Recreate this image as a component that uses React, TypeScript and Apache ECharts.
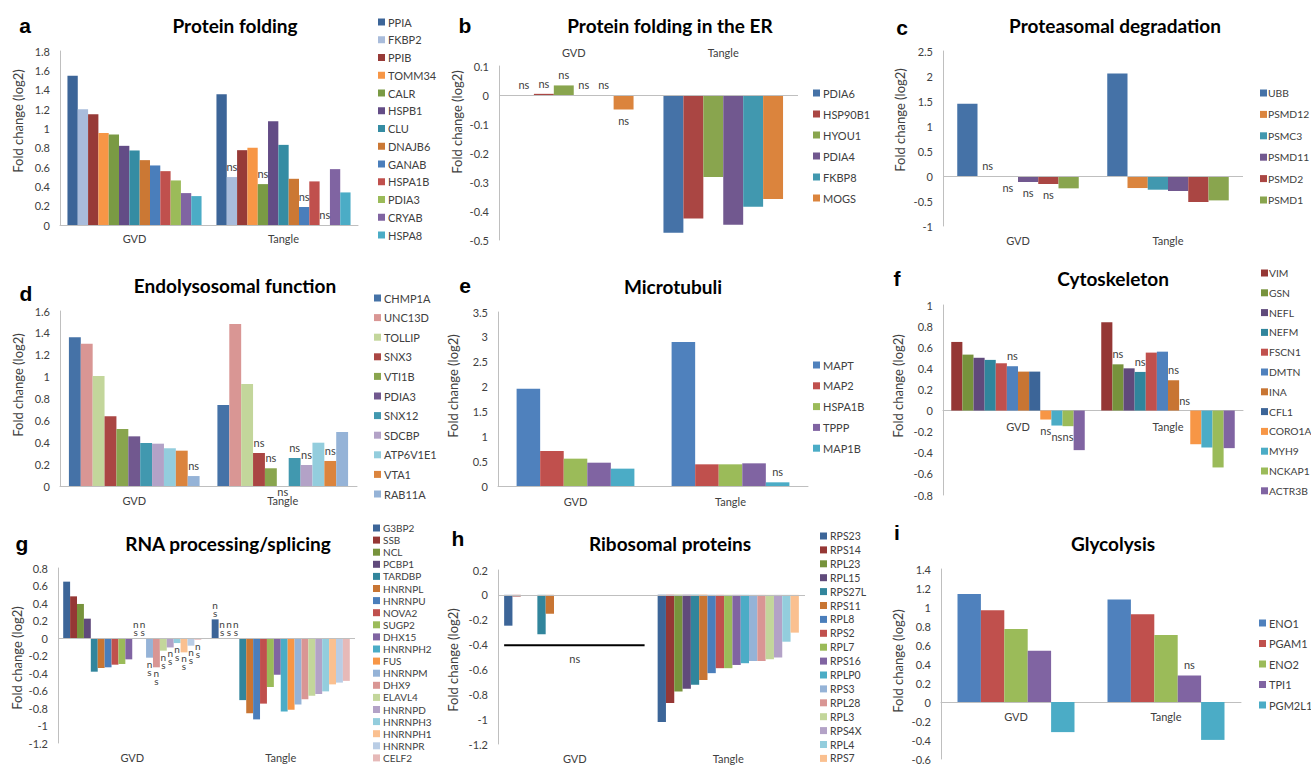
import React, { useEffect, useRef } from 'react';
import * as echarts from 'echarts';

const FONT = 'Lato, "Open Sans", sans-serif';
const AXIS = '#BFBFBF';
const TXT = '#404040';

const groups = ['GVD', 'Tangle'];
const yName = 'Fold change (log2)';

// a — Protein folding
const aGenes = ['PPIA', 'FKBP2', 'PPIB', 'TOMM34', 'CALR', 'HSPB1', 'CLU', 'DNAJB6', 'GANAB', 'HSPA1B', 'PDIA3', 'CRYAB', 'HSPA8'];
const aGVD = [1.545, 1.197, 1.146, 0.953, 0.936, 0.819, 0.771, 0.671, 0.616, 0.557, 0.461, 0.33, 0.299];
const aTangle = [1.352, 0.496, 0.774, 0.798, 0.423, 1.074, 0.829, 0.478, 0.186, 0.451, 0, 0.578, 0.337];
const aNsGVD = [0, 0, 0, 0, 0, 0, 0, 0, 0, 0, 0, 0, 0];
const aNsTangle = [0, 1, 0, 0, 1, 0, 0, 0, 1, 0, 1, 0, 0];
const aColors = ['#3C6598', '#A9BCDB', '#973A37', '#F79646', '#7A9A44', '#634C86', '#358CA3', '#CB7834', '#4A7EBB', '#C0504D', '#9BBB59', '#8064A2', '#4BACC6'];

// b — Protein folding in the ER
const bGenes = ['PDIA6', 'HSP90B1', 'HYOU1', 'PDIA4', 'FKBP8', 'MOGS'];
const bGVD = [0, 0.004, 0.033, 0, 0, -0.05];
const bTangle = [-0.475, -0.426, -0.283, -0.447, -0.385, -0.359];
const bNsGVD = [1, 1, 1, 1, 1, 1];
const bNsTangle = [0, 0, 0, 0, 0, 0];
const bColors = ['#4572A7', '#AA4643', '#89A54E', '#71588F', '#4198AF', '#DB843D'];

// c — Proteasomal degradation
const cGenes = ['UBB', 'PSMD12', 'PSMC3', 'PSMD11', 'PSMD2', 'PSMD1'];
const cGVD = [1.444, 0, -0.015, -0.12, -0.16, -0.247];
const cTangle = [2.052, -0.241, -0.274, -0.3, -0.52, -0.488];
const cNsGVD = [0, 1, 1, 1, 1, 0];
const cNsTangle = [0, 0, 0, 0, 0, 0];
const cColors = ['#4572A7', '#DB843D', '#4198AF', '#71588F', '#AA4643', '#89A54E'];

// d — Endolysosomal function
const dGenes = ['CHMP1A', 'UNC13D', 'TOLLIP', 'SNX3', 'VTI1B', 'PDIA3', 'SNX12', 'SDCBP', 'ATP6V1E1', 'VTA1', 'RAB11A'];
const dGVD = [1.36, 1.3, 1.006, 0.637, 0.521, 0.454, 0.393, 0.387, 0.345, 0.323, 0.091];
const dTangle = [0.741, 1.482, 0.933, 0.302, 0.162, 0, 0.256, 0.192, 0.396, 0.229, 0.494];
const dNsGVD = [0, 0, 0, 0, 0, 0, 0, 0, 0, 0, 1];
const dNsTangle = [0, 0, 0, 1, 1, -1, 1, 1, 0, 1, 0];
const dColors = ['#4572A7', '#D99694', '#C3D69B', '#AA4643', '#89A54E', '#71588F', '#4198AF', '#B3A2C7', '#93CDDD', '#DB843D', '#95B3D7'];

// e — Microtubuli
const eGenes = ['MAPT', 'MAP2', 'HSPA1B', 'TPPP', 'MAP1B'];
const eGVD = [1.957, 0.704, 0.55, 0.469, 0.349];
const eTangle = [2.895, 0.436, 0.436, 0.456, 0.074];
const eNsGVD = [0, 0, 0, 0, 0];
const eNsTangle = [0, 0, 0, 0, 1];
const eColors = ['#4F81BD', '#C0504D', '#9BBB59', '#8064A2', '#4BACC6'];

// f — Cytoskeleton
const fGenes = ['VIM', 'GSN', 'NEFL', 'NEFM', 'FSCN1', 'DMTN', 'INA', 'CFL1', 'CORO1A', 'MYH9', 'NCKAP1', 'ACTR3B'];
const fGVD = [0.65, 0.53, 0.5, 0.48, 0.448, 0.42, 0.369, 0.369, -0.085, -0.142, -0.148, -0.375];
const fTangle = [0.836, 0.438, 0.4, 0.366, 0.549, 0.558, 0.287, 0, -0.319, -0.35, -0.539, -0.356];
const fNsGVD = [0, 0, 0, 0, 0, 1, 0, 0, 1, 1, 1, 0];
const fNsTangle = [0, 1, 0, 1, 0, 0, 1, 1, 0, 0, 0, 0];
const fColors = ['#953735', '#77933C', '#604A7B', '#31859C', '#C0504D', '#4F81BD', '#C87533', '#3C6598', '#F79646', '#4BACC6', '#9BBB59', '#8064A2'];

// g — RNA processing/splicing
const gGenes = ['G3BP2', 'SSB', 'NCL', 'PCBP1', 'TARDBP', 'HNRNPL', 'HNRNPU', 'NOVA2', 'SUGP2', 'DHX15', 'HNRNPH2', 'FUS', 'HNRNPM', 'DHX9', 'ELAVL4', 'HNRNPD', 'HNRNPH3', 'HNRNPH1', 'HNRNPR', 'CELF2'];
const gGVD = [0.644, 0.476, 0.389, 0.221, -0.385, -0.343, -0.335, -0.305, -0.297, -0.244, 0, 0, -0.225, -0.335, -0.145, -0.108, -0.058, -0.164, -0.088, -0.02];
const gTangle = [0.213, 0, 0, 0, -0.71, -0.86, -0.93, -0.75, -0.56, -0.42, -0.84, -0.82, -0.76, -0.7, -0.66, -0.64, -0.61, -0.53, -0.51, -0.49];
const gNsGVD = [0, 0, 0, 0, 0, 0, 0, 0, 0, 0, 1, 1, 1, 1, 1, 1, 1, 1, 1, 1];
const gNsTangle = [1, 1, 1, 1, 0, 0, 0, 0, 0, 0, 0, 0, 0, 0, 0, 0, 0, 0, 0, 0];
const gColors = ['#3C6598', '#953735', '#77933C', '#604A7B', '#31859C', '#C87533', '#4A7EBB', '#C0504D', '#9BBB59', '#8064A2', '#4BACC6', '#F79646', '#95B3D7', '#D99694', '#C3D69B', '#B3A2C7', '#93CDDD', '#FAC090', '#B9CDE5', '#E6B9B8'];

// h — Ribosomal proteins
const hGenes = ['RPS23', 'RPS14', 'RPL23', 'RPL15', 'RPS27L', 'RPS11', 'RPL8', 'RPS2', 'RPL7', 'RPS16', 'RPLP0', 'RPS3', 'RPL28', 'RPL3', 'RPS4X', 'RPL4', 'RPS7'];
const hGVD = [-0.248, -0.013, 0, 0, -0.317, -0.152, 0, 0, 0, 0, 0, 0, 0, 0, 0, 0, 0];
const hTangle = [-1.022, -0.87, -0.777, -0.756, -0.724, -0.686, -0.63, -0.59, -0.59, -0.564, -0.55, -0.532, -0.532, -0.518, -0.504, -0.377, -0.304];
const hNsGVD = hGenes.map(() => 0);
const hNsTangle = hGenes.map(() => 0);
const hNsLineLevel = -0.405;
const hColors = ['#3C6598', '#953735', '#77933C', '#604A7B', '#31859C', '#C87533', '#4A7EBB', '#C0504D', '#9BBB59', '#8064A2', '#4BACC6', '#95B3D7', '#D99694', '#C3D69B', '#B3A2C7', '#93CDDD', '#FAC090'];

// i — Glycolysis
const iGenes = ['ENO1', 'PGAM1', 'ENO2', 'TPI1', 'PGM2L1'];
const iGVD = [1.136, 0.966, 0.769, 0.54, -0.317];
const iTangle = [1.079, 0.924, 0.705, 0.279, -0.399];
const iNsGVD = [0, 0, 0, 0, 0];
const iNsTangle = [0, 0, 0, 1, 0];
const iColors = ['#4F81BD', '#C0504D', '#9BBB59', '#8064A2', '#4BACC6'];

interface PanelCfg {
  box: number[];
  letter: string; letterPos: number[];
  title: string; titlePos: number[];
  ynamePos: number[];
  grid: { left: number; top: number; width: number; height: number };
  yMin: number; yMax: number; yInterval: number;
  gap: string; xMode: 'zero' | 'top' | 'bottom'; xMargin: number;
  genes: string[]; gvd: number[]; tangle: number[]; nsG: number[]; nsT: number[]; colors: string[];
  leg: { left: number; top: number; gap: number; font: number; lh: number; pad: number };
  nsStack?: boolean;
  nsLine?: number;
}

const panels: PanelCfg[] = [
  { box: [0, 0, 440, 255], letter: 'a', letterPos: [25, 25], title: 'Protein folding', titlePos: [235, 25], ynamePos: [18, 121],
    grid: { left: 60, top: 51, width: 298, height: 174 }, yMin: 0, yMax: 1.8, yInterval: 0.2, gap: '10%', xMode: 'zero', xMargin: 8,
    genes: aGenes, gvd: aGVD, tangle: aTangle, nsG: aNsGVD, nsT: aNsTangle, colors: aColors,
    leg: { left: 378, top: 16, gap: 5.75, font: 11, lh: 12, pad: -2 } },
  { box: [440, 0, 430, 255], letter: 'b', letterPos: [25, 25], title: 'Protein folding in the ER', titlePos: [230, 25], ynamePos: [17, 122],
    grid: { left: 59, top: 66, width: 299, height: 174 }, yMin: -0.5, yMax: 0.1, yInterval: 0.1, gap: '20%', xMode: 'top', xMargin: 8,
    genes: bGenes, gvd: bGVD, tangle: bTangle, nsG: bNsGVD, nsT: bNsTangle, colors: bColors,
    leg: { left: 373, top: 87, gap: 9, font: 11, lh: 12, pad: -2 } },
  { box: [870, 0, 441, 255], letter: 'c', letterPos: [32, 27], title: 'Proteasomal degradation', titlePos: [245, 25], ynamePos: [30, 120],
    grid: { left: 73, top: 51, width: 300, height: 175 }, yMin: -1, yMax: 2.5, yInterval: 0.5, gap: '19%', xMode: 'bottom', xMargin: 9,
    genes: cGenes, gvd: cGVD, tangle: cTangle, nsG: cNsGVD, nsT: cNsTangle, colors: cColors,
    leg: { left: 390, top: 87, gap: 9.4, font: 10.3, lh: 12, pad: -4 } },
  { box: [0, 255, 440, 255], letter: 'd', letterPos: [26, 38], title: 'Endolysosomal function', titlePos: [235, 30], ynamePos: [18, 130],
    grid: { left: 60, top: 56, width: 297, height: 175 }, yMin: 0, yMax: 1.6, yInterval: 0.2, gap: '12%', xMode: 'zero', xMargin: 9,
    genes: dGenes, gvd: dGVD, tangle: dTangle, nsG: dNsGVD, nsT: dNsTangle, colors: dColors,
    leg: { left: 374, top: 37, gap: 7.6, font: 11, lh: 12, pad: -2 } },
  { box: [440, 255, 430, 255], letter: 'e', letterPos: [25, 30], title: 'Microtubuli', titlePos: [233, 31], ynamePos: [13, 131],
    grid: { left: 58, top: 57, width: 310, height: 174 }, yMin: 0, yMax: 3.5, yInterval: 0.5, gap: '24%', xMode: 'zero', xMargin: 10,
    genes: eGenes, gvd: eGVD, tangle: eTangle, nsG: eNsGVD, nsT: eNsTangle, colors: eColors,
    leg: { left: 373, top: 104, gap: 8.8, font: 11, lh: 12, pad: -2 } },
  { box: [870, 255, 441, 255], letter: 'f', letterPos: [27, 23], title: 'Cytoskeleton', titlePos: [243, 23], ynamePos: [28, 131],
    grid: { left: 73, top: 50, width: 300, height: 190 }, yMin: -0.8, yMax: 1, yInterval: 0.2, gap: '11%', xMode: 'zero', xMargin: 10,
    genes: fGenes, gvd: fGVD, tangle: fTangle, nsG: fNsGVD, nsT: fNsTangle, colors: fColors,
    leg: { left: 391, top: 12, gap: 7.8, font: 10.3, lh: 12, pad: -4 } },
  { box: [0, 510, 440, 257], letter: 'g', letterPos: [22, 33], title: 'RNA processing/splicing', titlePos: [228, 33], ynamePos: [17, 148],
    grid: { left: 58, top: 58, width: 297, height: 175 }, yMin: -1.2, yMax: 0.8, yInterval: 0.2, gap: '7%', xMode: 'bottom', xMargin: 9,
    genes: gGenes, gvd: gGVD, tangle: gTangle, nsG: gNsGVD, nsT: gNsTangle, colors: gColors,
    leg: { left: 373, top: 13, gap: 2.1, font: 10, lh: 10, pad: -2 }, nsStack: true },
  { box: [440, 510, 430, 257], letter: 'h', letterPos: [18, 28], title: 'Ribosomal proteins', titlePos: [230, 33], ynamePos: [13, 150],
    grid: { left: 58, top: 60, width: 307, height: 174 }, yMin: -1.2, yMax: 0.2, yInterval: 0.2, gap: '8%', xMode: 'bottom', xMargin: 9,
    genes: hGenes, gvd: hGVD, tangle: hTangle, nsG: hNsGVD, nsT: hNsTangle, colors: hColors,
    leg: { left: 380, top: 20.5, gap: 2.9, font: 10.5, lh: 11, pad: -2 }, nsLine: hNsLineLevel },
  { box: [870, 510, 441, 257], letter: 'i', letterPos: [27, 22], title: 'Glycolysis', titlePos: [243, 33], ynamePos: [28, 151],
    grid: { left: 71, top: 59, width: 300, height: 190 }, yMin: -0.6, yMax: 1.4, yInterval: 0.2, gap: '22%', xMode: 'zero', xMargin: 9,
    genes: iGenes, gvd: iGVD, tangle: iTangle, nsG: iNsGVD, nsT: iNsTangle, colors: iColors,
    leg: { left: 389, top: 107, gap: 8.5, font: 11, lh: 12, pad: -2 } },
];

function textStyle(text: string, font: string, fill: string) {
  return { text, font, fill, align: 'center', verticalAlign: 'middle', textAlign: 'center', textVerticalAlign: 'middle' };
}

function buildOption(p: PanelCfg): any {
  const nsLabel = (v: number, ns: number) => ({
    show: true,
    position: ns < 0 || v < 0 ? 'bottom' : 'top',
    formatter: p.nsStack ? 'n\ns' : 'ns',
    distance: p.nsStack ? 2 : ns < 0 ? -1 : 4,
    fontSize: p.nsStack ? 10 : 11,
    lineHeight: p.nsStack ? 8 : 13,
    color: TXT,
    fontFamily: FONT,
  });
  const item = (v: number, ns: number) => (ns ? { value: v, label: nsLabel(v, ns) } : v);
  const series = p.genes.map((g, i) => {
    const s: any = {
      type: 'bar',
      name: g,
      data: [item(p.gvd[i], p.nsG[i]), item(p.tangle[i], p.nsT[i])],
      itemStyle: { color: p.colors[i] },
      barGap: '0%',
      barCategoryGap: p.gap,
    };
    if (i === 0 && p.xMode !== 'zero') {
      s.markLine = {
        silent: true,
        symbol: 'none',
        label: { show: false },
        lineStyle: { color: AXIS, width: 1, type: 'solid' },
        data: [{ yAxis: 0 }],
      };
    }
    return s;
  });
  // for 'zero' mode: shift the category axis (line + labels) up to the value 0
  const zeroOffset = p.xMode === 'zero' ? -(p.grid.height * (0 - p.yMin)) / (p.yMax - p.yMin) : 0;
  return {
    animation: false,
    backgroundColor: '#FFFFFF',
    textStyle: { fontFamily: FONT },
    grid: { ...p.grid, containLabel: false },
    xAxis: {
      type: 'category',
      data: groups,
      position: p.xMode === 'top' ? 'top' : 'bottom',
      offset: zeroOffset,
      axisLine: p.xMode === 'zero'
        ? { show: true, onZero: false, lineStyle: { color: AXIS, width: 1 } }
        : { show: false, onZero: false },
      axisTick: { show: false },
      axisLabel: { fontSize: 11, color: TXT, fontFamily: FONT, margin: p.xMargin },
      z: 1,
    },
    yAxis: {
      type: 'value',
      min: p.yMin,
      max: p.yMax,
      interval: p.yInterval,
      axisLine: { show: true, onZero: false, lineStyle: { color: AXIS, width: 1 } },
      axisTick: { show: false },
      splitLine: { show: false },
      axisLabel: { fontSize: 11, color: TXT, fontFamily: FONT, margin: 10 },
    },
    legend: {
      orient: 'vertical',
      left: p.leg.left,
      top: p.leg.top,
      padding: 0,
      itemWidth: 7,
      itemHeight: 7,
      itemGap: p.leg.gap,
      icon: 'rect',
      selectedMode: false,
      textStyle: { fontSize: p.leg.font, lineHeight: p.leg.lh, color: TXT, fontFamily: FONT, padding: [0, 0, 0, p.leg.pad] },
      data: p.genes,
    },
    graphic: {
      elements: [
        { id: 'letter', type: 'text', x: p.letterPos[0], y: p.letterPos[1], style: textStyle(p.letter, 'bold 21px "Liberation Sans", Arial, sans-serif', '#000') },
        { id: 'title', type: 'text', x: p.titlePos[0], y: p.titlePos[1], style: textStyle(p.title, `bold 19px ${FONT}`, '#000') },
        { id: 'yname', type: 'text', x: p.ynamePos[0], y: p.ynamePos[1], rotation: Math.PI / 2, style: textStyle(yName, `13px ${FONT}`, TXT) },
      ],
    },
    series,
  };
}

function PanelChart({ p }: { p: PanelCfg }) {
  const ref = useRef<HTMLDivElement>(null);
  useEffect(() => {
    if (!ref.current) return;
    const chart = echarts.init(ref.current, undefined, { renderer: 'svg' });
    chart.setOption(buildOption(p));
    if (p.nsLine != null) {
      const a = chart.convertToPixel({ gridIndex: 0 } as any, ['GVD', p.nsLine] as any) as number[];
      const b = chart.convertToPixel({ gridIndex: 0 } as any, ['Tangle', p.nsLine] as any) as number[];
      const bw = b[0] - a[0];
      chart.setOption({
        graphic: {
          elements: [
            { id: 'nsline', type: 'line', shape: { x1: a[0] - 0.46 * bw, y1: a[1], x2: a[0] + 0.455 * bw, y2: a[1] }, style: { stroke: '#000', lineWidth: 2 } },
            { id: 'nstext', type: 'text', x: a[0], y: a[1] + 13, style: textStyle('ns', `11px ${FONT}`, TXT) },
          ],
        },
      });
    }
    return () => chart.dispose();
  }, [p]);
  return (
    <div
      ref={ref}
      style={{ position: 'absolute', left: p.box[0], top: p.box[1], width: p.box[2], height: p.box[3] }}
    />
  );
}

export default function App() {
  return (
    <div style={{ position: 'absolute', left: 0, top: 0, width: 1311, height: 767, background: '#FFFFFF', overflow: 'hidden' }}>
      {panels.map((p) => (
        <PanelChart key={p.letter} p={p} />
      ))}
    </div>
  );
}
